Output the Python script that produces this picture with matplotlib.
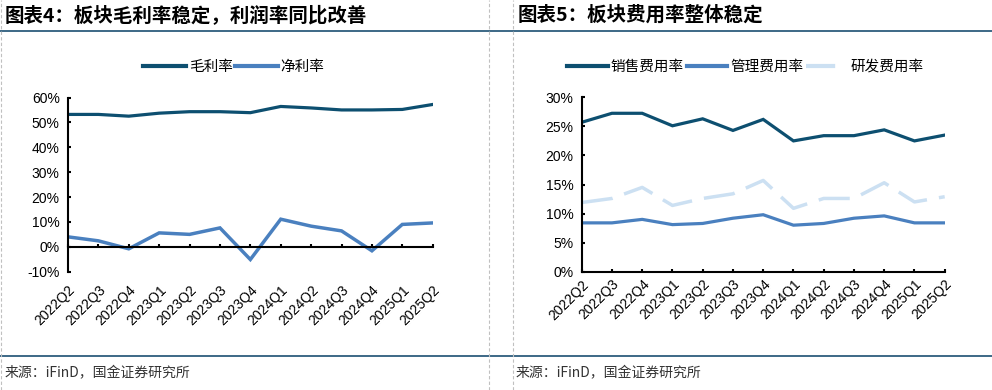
import matplotlib
matplotlib.use("Agg")
import matplotlib.pyplot as plt
from matplotlib.lines import Line2D

plt.rcParams["font.family"] = ["Liberation Sans", "Noto Sans CJK SC"]
plt.rcParams["axes.unicode_minus"] = False

quarters = ["2022Q2", "2022Q3", "2022Q4", "2023Q1", "2023Q2", "2023Q3", "2023Q4",
            "2024Q1", "2024Q2", "2024Q3", "2024Q4", "2025Q1", "2025Q2"]

gross_margin = [53.2, 53.2, 52.5, 53.7, 54.3, 54.3, 53.9, 56.4, 55.8, 55.0, 55.0, 55.2, 57.2]
net_margin = [4.0, 2.4, -0.8, 5.6, 5.0, 7.6, -5.1, 11.1, 8.3, 6.4, -1.6, 9.0, 9.6]

sales_exp = [25.7, 27.25, 27.25, 25.1, 26.3, 24.3, 26.2, 22.5, 23.4, 23.4, 24.4, 22.5, 23.5]
admin_exp = [8.4, 8.4, 9.0, 8.1, 8.3, 9.2, 9.8, 8.0, 8.3, 9.2, 9.6, 8.4, 8.4]
rd_exp = [11.9, 12.6, 14.5, 11.4, 12.6, 13.4, 15.7, 10.9, 12.6, 12.6, 15.3, 12.0, 12.9]

left_yticks = [-10, 0, 10, 20, 30, 40, 50, 60]
right_yticks = [0, 5, 10, 15, 20, 25, 30]

title_left = "图表4：板块毛利率稳定，利润率同比改善"
title_right = "图表5：板块费用率整体稳定"
source = "来源：iFinD，国金证券研究所"

DARK = "#0D4F70"
MID = "#4A80BF"
LIGHT = "#CCE0F2"
LINE = "#1B4F72"

W, H = 992, 390
fig = plt.figure(figsize=(W / 100, H / 100), dpi=100)

def px(x0, y0, x1, y1):
    return [x0 / W, 1 - y1 / H, (x1 - x0) / W, (y1 - y0) / H]

x = list(range(len(quarters)))

def style_axis(ax, yticks, show_xlabels=True):
    ax.set_xlim(0, len(quarters) - 1)
    ax.set_ylim(yticks[0], yticks[-1])
    ax.set_yticks(yticks)
    ax.set_yticklabels([f"{v}%" for v in yticks])
    ax.set_xticks(x)
    for s in ["top", "right"]:
        ax.spines[s].set_visible(False)
    for s in ["left", "bottom"]:
        ax.spines[s].set_linewidth(1.5)
    ax.tick_params(axis="both", direction="in", length=2.5, width=1.5, labelsize=10, pad=6)
    if show_xlabels:
        ax.set_xticklabels(quarters, rotation=45, ha="right", va="top", rotation_mode="anchor")
        ax.tick_params(axis="x", pad=4)

# left chart
ax1 = fig.add_axes(px(68, 97.5, 432.7, 271.7))
ax1.plot(x, gross_margin, color=DARK, lw=2.3, solid_joinstyle="miter")
ax1.plot(x, net_margin, color=MID, lw=2.5, solid_joinstyle="miter")
style_axis(ax1, left_yticks, show_xlabels=False)
ax1.spines["bottom"].set_position(("data", 0))
ax1.tick_params(axis="x", labelbottom=False)
sec = ax1.secondary_xaxis("bottom")
sec.set_xticks(x)
sec.set_xticklabels(quarters, rotation=45, ha="right", va="top", rotation_mode="anchor", fontsize=10)
sec.tick_params(length=0, pad=8)
sec.spines["bottom"].set_visible(False)

h1 = [Line2D([], [], color=DARK, lw=3), Line2D([], [], color=MID, lw=3)]
fig.legend(h1, ["毛利率", "净利率"], loc="center", bbox_to_anchor=(234 / W, 1 - 67 / H),
           ncol=2, frameon=False, fontsize=10.5, handlelength=2.9, handletextpad=0.2,
           columnspacing=0.2)

# right chart
ax2 = fig.add_axes(px(581.7, 97.3, 944.7, 271.7))
ax2.plot(x, sales_exp, color=DARK, lw=2.3, solid_joinstyle="miter")
ax2.plot(x, admin_exp, color=MID, lw=2.3, solid_joinstyle="miter")
ax2.plot(x, rd_exp, color=LIGHT, lw=2.5, dashes=(9, 3.5))
style_axis(ax2, right_yticks)

h2 = [Line2D([], [], color=DARK, lw=3), Line2D([], [], color=MID, lw=3),
      Line2D([], [], color=LIGHT, lw=3, dashes=(7, 3))]
fig.legend(h2, ["销售费用率", "管理费用率", "研发费用率"], loc="center",
           bbox_to_anchor=(745 / W, 1 - 67 / H), ncol=3, frameon=False, fontsize=10.5,
           handlelength=2.8, handletextpad=0.2, columnspacing=0.2)

# header / footer decorations
fig.text(5 / W, 1 - 15 / H, title_left, fontsize=14, fontweight="bold",
         family="Noto Sans CJK SC", va="center", ha="left")
fig.text(518 / W, 1 - 15 / H, title_right, fontsize=14, fontweight="bold",
         family="Noto Sans CJK SC", va="center", ha="left")
fig.text(5 / W, 1 - 373 / H, source, fontsize=10, family="Noto Sans CJK SC",
         color="#333333", va="center", ha="left")
fig.text(516 / W, 1 - 373 / H, source, fontsize=10, family="Noto Sans CJK SC",
         color="#333333", va="center", ha="left")

for yy in [31, 356]:
    fig.add_artist(Line2D([0, 1], [1 - yy / H] * 2, color=LINE, lw=1.2))
for xx in [1, 489, 513]:
    fig.add_artist(Line2D([xx / W] * 2, [0, 1], color="#C0C0C0", lw=0.8, ls=(0, (3, 2))))

fig.savefig("out.png", dpi=100)
